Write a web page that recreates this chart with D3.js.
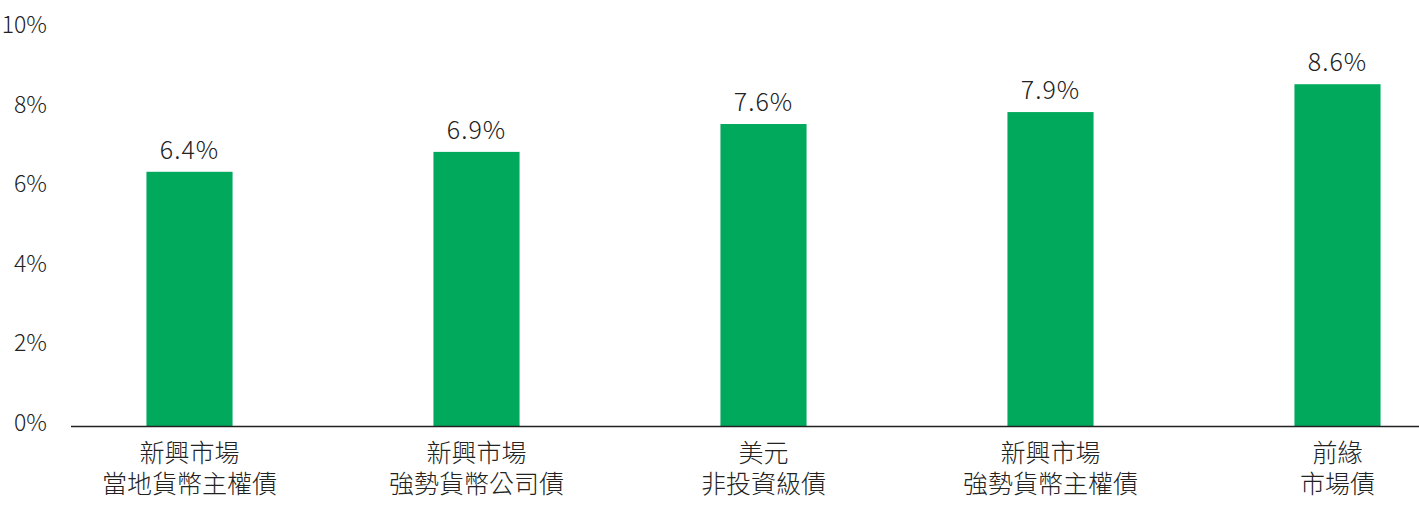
<!DOCTYPE html>
<html><head><meta charset="utf-8">
<script src="https://cdn.jsdelivr.net/npm/d3@7/dist/d3.min.js"></script>
<style>
html,body{margin:0;padding:0;background:#fff;}
svg{display:block;}
text{font-family:"Noto Sans CJK TC","Noto Sans",sans-serif;font-weight:300;fill:#222;}
text.cat{font-family:"Liberation Sans","Noto Sans CJK TC",sans-serif;}
</style></head>
<body>
<svg id="chart" width="1419" height="506"></svg>
<script>
const categories = [
  ["新興市場","當地貨幣主權債"],
  ["新興市場","強勢貨幣公司債"],
  ["美元","非投資級債"],
  ["新興市場","強勢貨幣主權債"],
  ["前緣","市場債"]
];
const values = [6.4, 6.9, 7.6, 7.9, 8.6];
const valueLabels = ["6.4%","6.9%","7.6%","7.9%","8.6%"];
const yTicks = [0, 2, 4, 6, 8, 10];
const yTickLabels = ["0%","2%","4%","6%","8%","10%"];

const svg = d3.select("#chart");
const keys = categories.map(c => c.join(""));

const x = d3.scaleBand().domain(keys).range([46, 1481]).paddingInner(0.7).paddingOuter(0.35);
const y = d3.scaleLinear().domain([0, 10]).range([426.5, 28.5]);

// y tick labels
svg.append("g").selectAll("text").data(yTicks).join("text")
  .attr("x", 47).attr("y", d => y(d) - 3.5)
  .attr("dy", "0.35em")
  .attr("text-anchor", "end")
  .style("font-size", "23px")
  .text((d, i) => yTickLabels[i]);

// bars
svg.append("g").selectAll("rect").data(values).join("rect")
  .attr("x", (d, i) => x(keys[i]))
  .attr("width", x.bandwidth())
  .attr("y", d => y(d))
  .attr("height", d => y(0) - y(d))
  .attr("fill", "#00a95c");

// value labels
svg.append("g").selectAll("text").data(values).join("text")
  .attr("x", (d, i) => x(keys[i]) + x.bandwidth() / 2)
  .attr("y", d => y(d) - 13)
  .attr("text-anchor", "middle")
  .style("font-size", "25px")
  .style("letter-spacing", "1px")
  .text((d, i) => valueLabels[i]);

// x axis line
svg.append("line")
  .attr("x1", 71).attr("x2", 1419)
  .attr("y1", y(0)).attr("y2", y(0))
  .attr("stroke", "#222").attr("stroke-width", 1.5);

// category labels (one text per line)
const lines = [];
categories.forEach((c, i) => c.forEach((t, j) => lines.push({i, j, t})));
svg.append("g").selectAll("text").data(lines).join("text")
  .attr("class", "cat")
  .attr("x", d => x(keys[d.i]) + x.bandwidth() / 2)
  .attr("y", d => 462 + d.j * 31)
  .attr("text-anchor", "middle")
  .style("font-size", "25px")
  .text(d => d.t);
</script>
</body></html>
